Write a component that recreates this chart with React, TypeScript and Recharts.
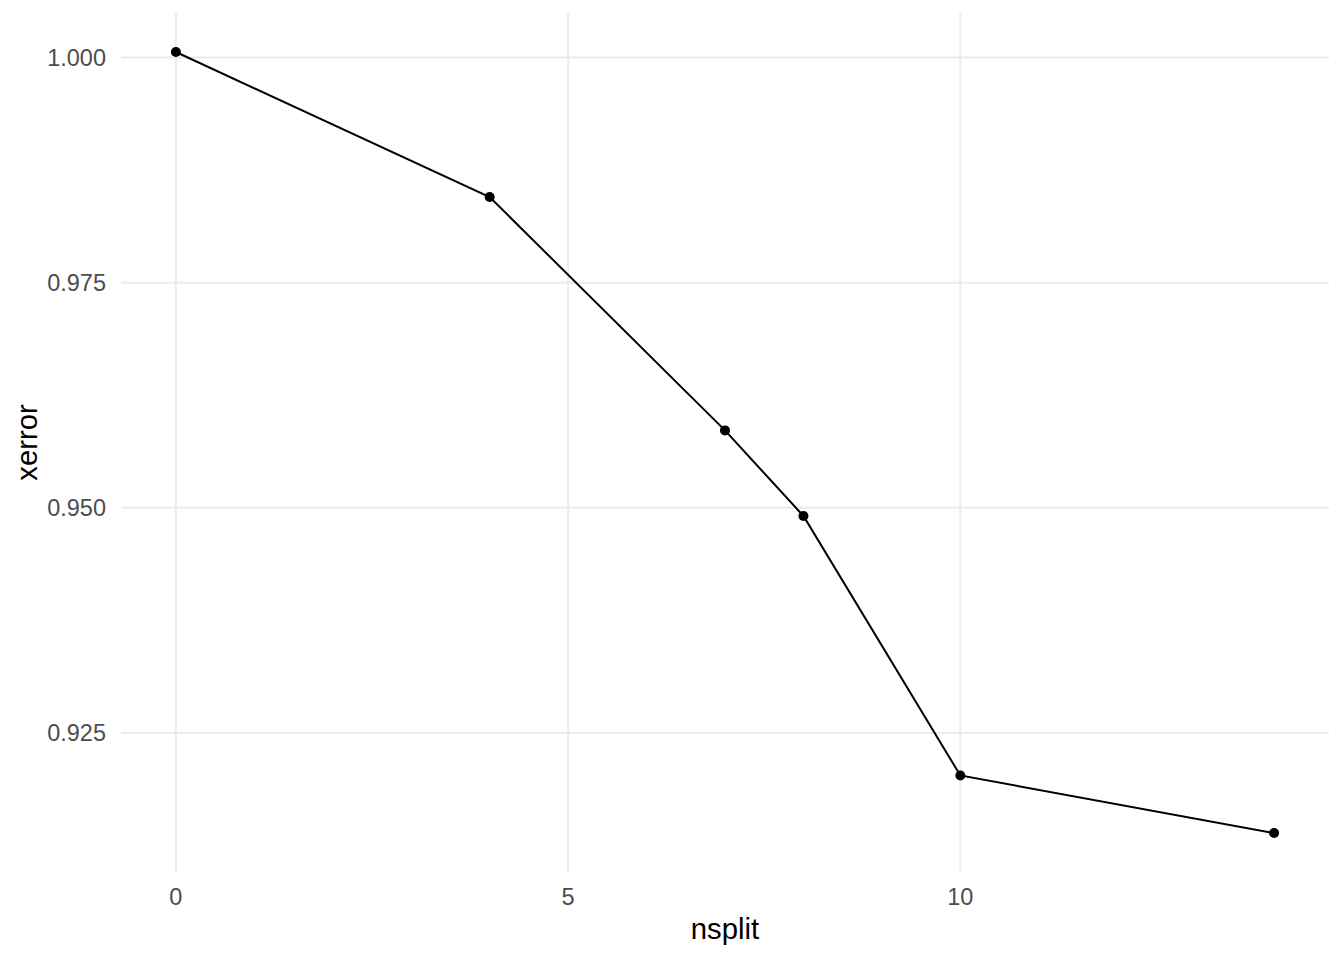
import React from 'react';
import { LineChart, Line, XAxis, YAxis, CartesianGrid, Label } from 'recharts';

const nsplit = [0, 4, 7, 8, 10, 14];
const xerror = [1.0006, 0.9845, 0.9586, 0.9491, 0.9203, 0.9139];
const xTicks = [0, 5, 10];
const yTicks = [0.925, 0.95, 0.975, 1.0];

const data = nsplit.map((n, i) => ({ nsplit: n, xerror: xerror[i] }));

const FONT = '"Liberation Sans", Arial, sans-serif';

export default function App() {
  return (
    <div style={{ position: 'absolute', left: 0, top: 0, width: 1344, height: 960, background: '#fff' }}>
      <LineChart width={1344} height={960} data={data} margin={{ top: 13, right: 15, bottom: 0, left: 0 }}>
        <CartesianGrid stroke="#EBEBEB" strokeWidth={2} horizontalValues={yTicks} verticalValues={xTicks} />
        <XAxis
          type="number"
          dataKey="nsplit"
          domain={[-0.7, 14.7]}
          ticks={xTicks}
          allowDataOverflow
          axisLine={false}
          tickLine={false}
          tickSize={0}
          tickMargin={16}
          height={88}
          tick={{ fill: '#4D4D4D', fontSize: 23.5, fontFamily: FONT }}
        >
          <Label value="nsplit" position="insideBottom" offset={21} fill="#000" style={{ fontSize: 29.3, fill: '#000', fontFamily: FONT }} />
        </XAxis>
        <YAxis
          type="number"
          domain={[0.90958, 1.00493]}
          ticks={yTicks}
          allowDataOverflow
          tickFormatter={(v: number) => v.toFixed(3)}
          axisLine={false}
          tickLine={false}
          tickSize={0}
          tickMargin={15}
          width={121}
          tick={{ fill: '#4D4D4D', fontSize: 23.5, fontFamily: FONT }}
        >
          <Label value="xerror" angle={-90} position="insideLeft" offset={27} fill="#000" style={{ textAnchor: 'middle', fontSize: 29.3, fill: '#000', fontFamily: FONT }} />
        </YAxis>
        <Line
          type="linear"
          dataKey="xerror"
          stroke="#000"
          strokeWidth={2}
          dot={{ r: 5, fill: '#000', stroke: 'none' }}
          activeDot={false}
          isAnimationActive={false}
        />
      </LineChart>
    </div>
  );
}
